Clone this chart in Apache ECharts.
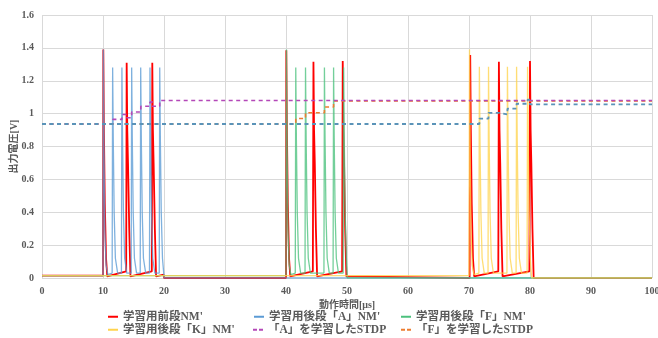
<!DOCTYPE html>
<html>
<head>
<meta charset="utf-8">
<script src="https://cdn.jsdelivr.net/npm/echarts@6/dist/echarts.min.js"></script>
<style>html,body{margin:0;padding:0;background:#fff}#c{width:658px;height:338px}</style>
</head>
<body>
<div id="c"></div>
<script>
// ---- data ----
var xTicks = [0, 10, 20, 30, 40, 50, 60, 70, 80, 90, 100];
var yTicks = [0, 0.2, 0.4, 0.6, 0.8, 1, 1.2, 1.4, 1.6];
var seriesNames = ["学習用前段NM'", "学習用後段「A」NM'", "学習用後段「F」NM'", "学習用後段「K」NM'", "「A」を学習したSTDP", "「F」を学習したSTDP", "「K」を学習したSTDP"];

var preNM = [
  [0,0.015],[10.0,0.015],[10.05,1.39],[10.15,0.9],[10.3,0.45],[10.5,0.12],[10.7,0.01],
  [13.8,0.04],[13.88,1.31],[13.98,0.9],[14.1,0.7],[14.3,0.3],[14.5,0.01],
  [18.0,0.04],[18.08,1.31],[18.18,0.9],[18.3,0.7],[18.5,0.3],[18.7,0.01],
  [19.95,0.02],[20.0,0],[40.0,0],
  [40.05,1.385],[40.15,0.9],[40.3,0.45],[40.5,0.12],[40.7,0.01],
  [44.4,0.04],[44.5,1.315],[44.6,0.9],[44.72,0.7],[44.9,0.3],[45.1,0.01],
  [49.2,0.04],[49.3,1.32],[49.4,0.9],[49.52,0.7],[49.7,0.3],[49.9,0.01],
  [50.0,0],[70.1,0],
  [70.2,1.356],[70.3,0.9],[70.45,0.45],[70.65,0.12],[70.85,0.01],
  [74.8,0.04],[74.9,1.316],[75.0,0.9],[75.12,0.7],[75.3,0.3],[75.5,0.01],
  [79.9,0.04],[80.0,1.32],[80.1,0.9],[80.22,0.7],[80.4,0.3],[80.6,0],[100,0]
];
var postA = [
  [0,0.015],[10.0,0.015],[10.06,1.39],[10.16,0.8],[10.3,0.3],[10.5,0.08],[10.8,0.02],
  [11.5,0.03],[11.58,1.28],[11.68,0.85],[11.83,0.4],[12.03,0.12],[12.4,0.03],
  [13.02,0.03],[13.1,1.28],[13.2,0.85],[13.35,0.4],[13.55,0.12],[13.9,0.03],
  [14.62,0.03],[14.7,1.28],[14.8,0.85],[14.95,0.4],[15.15,0.12],[15.5,0.03],
  [16.1,0.03],[16.18,1.28],[16.28,0.85],[16.43,0.4],[16.63,0.12],[17.0,0.03],
  [17.62,0.03],[17.7,1.28],[17.8,0.85],[17.95,0.4],[18.15,0.12],[18.5,0.03],
  [19.22,0.03],[19.3,1.28],[19.4,0.85],[19.55,0.4],[19.75,0.12],[19.95,0.03],
  [20.0,0],[100,0]
];
var postF = [
  [0,0.015],[40.0,0.015],[40.08,1.39],[40.18,0.8],[40.32,0.3],[40.52,0.08],[40.8,0.02],
  [41.52,0.03],[41.6,1.28],[41.7,0.85],[41.85,0.4],[42.05,0.12],[42.4,0.03],
  [43.12,0.03],[43.2,1.28],[43.3,0.85],[43.45,0.4],[43.65,0.12],[44.0,0.03],
  [46.22,0.03],[46.3,1.28],[46.4,0.85],[46.55,0.4],[46.75,0.12],[47.1,0.03],
  [47.72,0.03],[47.8,1.28],[47.9,0.85],[48.05,0.4],[48.25,0.12],[48.6,0.03],
  [49.37,0.03],[49.45,1.28],[49.55,0.85],[49.7,0.4],[49.9,0.12],[50.0,0.03],
  [50.05,0],[100,0]
];
var postK = [
  [0,0.015],[70.0,0.015],[70.08,1.39],[70.18,0.8],[70.32,0.3],[70.52,0.08],[70.8,0.02],
  [71.62,0.03],[71.7,1.285],[71.8,0.85],[71.95,0.4],[72.15,0.12],[72.5,0.03],
  [73.12,0.03],[73.2,1.285],[73.3,0.85],[73.45,0.4],[73.65,0.12],[74.0,0.03],
  [76.22,0.03],[76.3,1.285],[76.4,0.85],[76.55,0.4],[76.75,0.12],[77.1,0.03],
  [77.72,0.03],[77.8,1.285],[77.9,0.85],[78.05,0.4],[78.25,0.12],[78.6,0.03],
  [79.52,0.03],[79.6,1.285],[79.7,0.85],[79.85,0.4],[80.05,0.12],[80.2,0.03],
  [80.3,0],[100,0]
];
var stdpA = [
  [0,0.937],[11.6,0.937],[11.6,0.965],[13.1,0.965],[13.1,0.995],[13.9,0.995],[13.9,0.975],
  [14.7,0.975],[14.7,1.01],[16.2,1.01],[16.2,1.045],[17.7,1.045],[17.7,1.07],[18.1,1.07],
  [18.1,1.045],[19.3,1.045],[19.3,1.08],[100,1.08]
];
var stdpF = [
  [0,0.937],[41.6,0.937],[41.6,0.97],[43.2,0.97],[43.2,1.005],[46.3,1.005],[46.3,1.04],
  [47.8,1.04],[47.8,1.077],[100,1.077]
];
var stdpK = [
  [0,0.937],[71.7,0.937],[71.7,0.97],[73.2,0.97],[73.2,1.005],[74.9,1.005],[74.9,0.995],
  [76.3,0.995],[76.3,1.03],[77.8,1.03],[77.8,1.06],[79.6,1.06],[79.6,1.085],[80.0,1.085],
  [80.0,1.056],[100,1.056]
];

// ---- chart ----
var colors = ['#FF0000', '#5B9BD5', '#4CC17D', '#FFD34D', '#B448B8', '#ED7D31', '#5A93B8'];
var dataList = [preNM, postA, postF, postK, stdpA, stdpF, stdpK];
var zList = [2, 3, 4, 5, 7, 6, 8];
var numFont = 'Liberation Serif';
var txtFont = '"Liberation Serif", "Noto Sans CJK JP"';
var solidIcon = 'path://M0,0H10V2H0Z';
var dashIcon = 'path://M0,0H4V2H0Z M6,0H10V2H6Z';

function mkSeries(i) {
  var dashed = i >= 4;
  return {
    name: seriesNames[i], type: 'line', data: dataList[i], symbol: 'none',
    silent: true, animation: false, z: zList[i],
    lineStyle: {
      color: colors[i], width: dashed ? (i === 6 ? 1.8 : 1.6) : (i === 0 ? 1.8 : 1.3),
      type: dashed ? [4, 3.5] : 'solid', opacity: dashed ? 1 : (i === 0 ? 1 : 0.78)
    },
    itemStyle: { color: colors[i] }
  };
}
var series = [];
for (var i = 0; i < dataList.length; i++) series.push(mkSeries(i));

var legendPos = [
  [108, 311], [254, 311], [401, 311],
  [108, 324], [253, 324], [401, 324]
];
var legends = [];
for (var j = 0; j < 6; j++) {
  legends.push({
    data: [{ name: seriesNames[j], icon: j >= 4 ? dashIcon : solidIcon }],
    left: legendPos[j][0], top: legendPos[j][1],
    itemWidth: 10, itemHeight: 2, padding: 0, selectedMode: false,
    textStyle: { fontFamily: txtFont, fontWeight: 'bold', fontSize: 11.5, color: '#595959' }
  });
}

var chart = echarts.init(document.getElementById('c'), null, { renderer: 'canvas' });
chart.setOption({
  animation: false,
  color: colors,
  grid: { left: 42, right: 6, top: 15, bottom: 60, containLabel: false, outerBoundsMode: 'none' },
  legend: legends,
  xAxis: {
    type: 'value', min: 0, max: 100, interval: 10,
    name: '動作時間[μs]', nameLocation: 'middle', nameGap: 22, nameMoveOverlap: false,
    nameTextStyle: { fontFamily: txtFont, fontWeight: 'bold', fontSize: 10, color: '#595959' },
    axisLine: { show: false }, axisTick: { show: false },
    axisLabel: { fontFamily: numFont, fontWeight: 'bold', fontSize: 10, color: '#595959', margin: 8,
      formatter: function (v) { return xTicks.indexOf(v) >= 0 ? String(v) : ''; } },
    splitLine: { show: true, lineStyle: { color: '#D9D9D9', width: 1 } }
  },
  yAxis: {
    type: 'value', min: 0, max: 1.6, interval: 0.2,
    name: '出力電圧[V]', nameLocation: 'middle', nameGap: 23, nameRotate: 90, nameMoveOverlap: false,
    nameTextStyle: { fontFamily: txtFont, fontWeight: 'bold', fontSize: 10, color: '#595959' },
    axisLine: { show: false }, axisTick: { show: false },
    axisLabel: { fontFamily: numFont, fontWeight: 'bold', fontSize: 10, color: '#595959', margin: 8,
      formatter: function (v) {
        for (var k = 0; k < yTicks.length; k++) if (Math.abs(yTicks[k] - v) < 1e-6) return String(yTicks[k]);
        return '';
      } },
    splitLine: { show: true, lineStyle: { color: '#D9D9D9', width: 1 } }
  },
  series: series
});
</script>
</body>
</html>
